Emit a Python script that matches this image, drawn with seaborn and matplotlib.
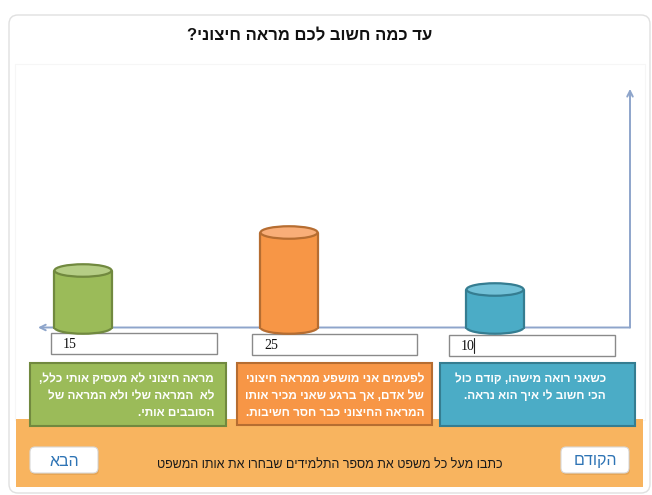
import matplotlib
matplotlib.use('Agg')
import matplotlib.pyplot as plt
from matplotlib.patches import Rectangle, FancyBboxPatch, Ellipse
import seaborn as sns

sns.set_style('white')
plt.rcParams['font.family'] = ['Liberation Sans', 'DejaVu Sans']
plt.rcParams['axes.unicode_minus'] = False

# ---------------------------------------------------------------
# data
TITLE = 'עד כמה חשוב לכם מראה חיצוני?'
STATEMENTS = [
    ['מראה חיצוני לא מעסיק אותי כלל,', 'לא  המראה שלי ולא המראה של', 'הסובבים אותי.'],
    ['לפעמים אני מושפע ממראה חיצוני', 'של אדם, אך ברגע שאני מכיר אותו', 'המראה החיצוני כבר חסר חשיבות.'],
    ['כשאני רואה מישהו, קודם כול', 'הכי חשוב לי איך הוא נראה.'],
]
CATS = ['green', 'orange', 'blue']
VALUES = [15, 25, 10]
INSTRUCTION = 'כתבו מעל כל משפט את מספר התלמידים שבחרו את אותו המשפט'
BTN_NEXT = 'הבא'
BTN_PREV = 'הקודם'

BODY = ['#9BBB59', '#F79646', '#4BACC6']
TOP = ['#B5CD85', '#F9AE78', '#72C1D7']
EDGE = ['#71893F', '#B66D31', '#357D91']
AX_COL = '#8EA5CB'


def rtl(s):
    return s[::-1]


W, H = 652, 495
fig = plt.figure(figsize=(W / 100, H / 100), dpi=100)

# ---------------- background / page elements (pixel coords)
bg = fig.add_axes([0, 0, 1, 1])
bg.set_xlim(0, W)
bg.set_ylim(H, 0)
bg.axis('off')

bg.add_patch(FancyBboxPatch((9, 15), 641, 478, boxstyle='round,pad=0,rounding_size=9',
                            fc='white', ec='#E0E0E0', lw=1))
bg.add_patch(Rectangle((15, 64), 630, 356, fc='none', ec='#F6F6F6', lw=0.8))
bg.text(310, 36, rtl(TITLE), ha='center', va='center', fontsize=12, fontweight='bold', color='#111111')

# orange band
bg.add_patch(Rectangle((16, 419), 627, 68, fc='#F8B45F', ec='none'))

# statement boxes
boxes = [(30, 363, 196, 63), (237, 363, 195, 62), (440, 363, 195, 63)]
text_right = [214, 424, 606]
for i, (bx, by, bw, bh) in enumerate(boxes):
    bg.add_patch(Rectangle((bx, by), bw, bh, fc=BODY[i], ec=EDGE[i], lw=1.5))
    for j, line in enumerate(STATEMENTS[i]):
        bg.text(text_right[i], by + 16 + j * 17, rtl(line), ha='right', va='center',
                fontsize=8.5, fontweight='bold', color='white')

# input boxes
inputs = [(51, 333, 166, 21), (252, 334, 165, 21), (449, 335, 166, 21)]
for i, (bx, by, bw, bh) in enumerate(inputs):
    bg.add_patch(Rectangle((bx, by), bw, bh, fc='white', ec='#8A8A8A', lw=1, zorder=5))
    bg.text(bx + 12, by + bh / 2 + 1, str(VALUES[i]), ha='left', va='center',
            fontsize=10, family='Liberation Serif', color='#111111', zorder=6)
bg.plot([474, 474], [338, 353], color='#222222', lw=0.8, zorder=6)

# buttons
for (bx, label) in [(30, BTN_NEXT), (561, BTN_PREV)]:
    bg.add_patch(FancyBboxPatch((bx + 1, 449), 68, 26, boxstyle='round,pad=0,rounding_size=5',
                                fc='#C98A3E', ec='none', alpha=0.35))
    bg.add_patch(FancyBboxPatch((bx, 447), 68, 26, boxstyle='round,pad=0,rounding_size=5',
                                fc='white', ec='#D8D8D8', lw=0.8))
    bg.text(bx + 34, 461, rtl(label), ha='center', va='center', fontsize=11.5, color='#2E74B5')

bg.text(330, 465, rtl(INSTRUCTION), ha='center', va='center', fontsize=9, color='#1A1A1A')

# ---------------- chart axes with cylinders
PX_UNIT = 3.8
Y0_PX = 327.5
YMIN, YMAX = -4, 63
X0_PX, PX_CAT = 83, 206
XMIN, XMAX = -0.3, 2.67

left_px = X0_PX + XMIN * PX_CAT
right_px = X0_PX + XMAX * PX_CAT
bot_px = Y0_PX - YMIN * PX_UNIT
top_px = Y0_PX - YMAX * PX_UNIT
ax = fig.add_axes([left_px / W, 1 - bot_px / H, (right_px - left_px) / W, (bot_px - top_px) / H])
ax.patch.set_alpha(0)

sns.barplot(x=CATS, y=VALUES, hue=CATS, order=CATS, palette=BODY, saturation=1,
            width=0.277, edgecolor='none', legend=False, ax=ax)
ax.set_xlim(XMIN, XMAX)
ax.set_ylim(YMIN, YMAX)
ax.set_xticks([])
ax.set_yticks([])
ax.set_xlabel('')
ax.set_ylabel('')
for s in ax.spines.values():
    s.set_visible(False)

# axis arrows
x_axis = (630 - X0_PX) / PX_CAT
x_tip = (38 - X0_PX) / PX_CAT
ax.annotate('', xy=(x_tip, 0), xytext=(x_axis, 0),
            arrowprops=dict(arrowstyle='->', color=AX_COL, lw=1.4, shrinkA=0, shrinkB=0), zorder=0.5)
ax.annotate('', xy=(x_axis, YMAX - 0.2), xytext=(x_axis, 0),
            arrowprops=dict(arrowstyle='->', color=AX_COL, lw=1.4, shrinkA=0, shrinkB=0), zorder=0.5)

ell_h = 12.5 / PX_UNIT
bars = sorted(ax.patches, key=lambda p: p.get_x())
for i, p in enumerate(bars):
    x0, w, h = p.get_x(), p.get_width(), p.get_height()
    cx = x0 + w / 2
    p.set_zorder(2)
    ax.add_patch(Ellipse((cx, 0), w, ell_h, fc=BODY[i], ec=EDGE[i], lw=1.6, zorder=1))
    ax.plot([x0, x0], [0, h], color=EDGE[i], lw=1.6, zorder=3)
    ax.plot([x0 + w, x0 + w], [0, h], color=EDGE[i], lw=1.6, zorder=3)
    ax.add_patch(Ellipse((cx, h), w, ell_h, fc=TOP[i], ec=EDGE[i], lw=1.6, zorder=4))

fig.savefig('out.png', dpi=100)
